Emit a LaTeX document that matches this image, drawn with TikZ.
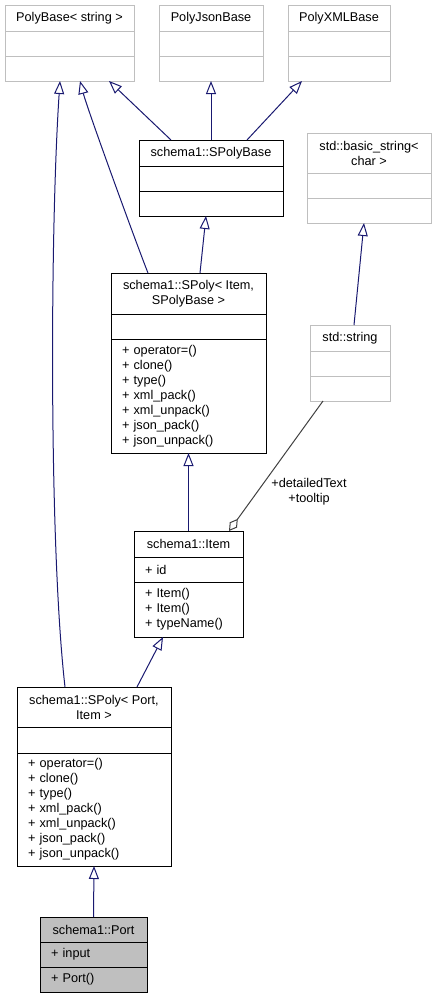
\documentclass[tikz,border=0pt]{standalone}
\usepackage{fontspec}
\setmainfont{Liberation Sans}
\usetikzlibrary{arrows.meta,positioning}
\definecolor{edgeblue}{HTML}{191970}
\definecolor{extgray}{HTML}{BFBFBF}
\definecolor{agggray}{HTML}{404040}

\begin{document}
\begin{tikzpicture}[x=1pt,y=-1pt,
    every node/.append style={font=\fontsize{12.7}{15}\selectfont,outer sep=0pt,inner ysep=0pt,line width=1pt},
    head/.style={draw=#1,anchor=north west,align=center,minimum height=26pt},
    head/.default=black,
    part/.style={draw=#1,minimum height=25pt,align=left,inner xsep=11pt},
    part/.default=black,
    inh/.style={edgeblue,line width=1pt,-{Triangle[open,length=13pt,width=10pt]}},
    agg/.style={agggray,line width=1pt,{Diamond[open,length=15pt,width=9pt]}-}
]
    \useasboundingbox (0,0) rectangle (437,999);

    % base classes
    \node[head=extgray,minimum width=129pt] (pb) at (5,5) {PolyBase< string >};
    \node[part=extgray,text width=107pt,below=0pt of pb] (pb1) {};
    \node[part=extgray,text width=107pt,below=0pt of pb1] (pb2) {};

    \node[head=extgray,minimum width=104pt] (pjb) at (159,5) {PolyJsonBase};
    \node[part=extgray,text width=82pt,below=0pt of pjb] (pjb1) {};
    \node[part=extgray,text width=82pt,below=0pt of pjb1] (pjb2) {};

    \node[head=extgray,minimum width=102pt] (pxb) at (288,5) {PolyXMLBase};
    \node[part=extgray,text width=80pt,below=0pt of pxb] (pxb1) {};
    \node[part=extgray,text width=80pt,below=0pt of pxb1] (pxb2) {};

    \node[head,minimum width=144pt] (spb) at (139,140) {schema1::SPolyBase};
    \node[part,text width=122pt,below=0pt of spb] (spb1) {};
    \node[part,text width=122pt,below=0pt of spb1] (spb2) {};

    \node[head=extgray,minimum width=124pt,minimum height=40pt] (bs) at (307,133) {std::basic\_string<\\char >};
    \node[part=extgray,text width=102pt,below=0pt of bs] (bs1) {};
    \node[part=extgray,text width=102pt,below=0pt of bs1] (bs2) {};

    % templates and members
    \node[head,minimum width=155pt,minimum height=41pt] (spi) at (111,273) {schema1::SPoly< Item,\\SPolyBase >};
    \node[part,text width=133pt,below=0pt of spi] (spi1) {};
    \node[part,text width=133pt,minimum height=114pt,below=0pt of spi1] (spi2) {+ operator=()\\+ clone()\\+ type()\\+ xml\_pack()\\+ xml\_unpack()\\+ json\_pack()\\+ json\_unpack()};

    \node[head=extgray,minimum width=80pt] (str) at (310,325) {std::string};
    \node[part=extgray,text width=58pt,below=0pt of str] (str1) {};
    \node[part=extgray,text width=58pt,below=0pt of str1] (str2) {};

    \node[head,minimum width=109pt] (item) at (134,531) {schema1::Item};
    \node[part,text width=87pt,below=0pt of item] (item1) {+ id};
    \node[part,text width=87pt,minimum height=55pt,below=0pt of item1] (item2) {+ Item()\\+ Item()\\+ typeName()};

    \node[head,minimum width=154pt,minimum height=40pt] (spp) at (17,687) {schema1::SPoly< Port,\\Item >};
    \node[part,text width=132pt,minimum height=26pt,below=0pt of spp] (spp1) {};
    \node[part,text width=132pt,minimum height=113pt,below=0pt of spp1] (spp2) {+ operator=()\\+ clone()\\+ type()\\+ xml\_pack()\\+ xml\_unpack()\\+ json\_pack()\\+ json\_unpack()};

    \node[head,fill=extgray,minimum width=107pt,minimum height=25pt] (port) at (40,917) {schema1::Port};
    \node[part,fill=extgray,text width=85pt,below=0pt of port] (port1) {+ input};
    \node[part,fill=extgray,text width=85pt,below=0pt of port1] (port2) {+ Port()};

    % inheritance
    \draw[inh] ([xshift=-40pt]spb.north) -- ([xshift=39.5pt]pb2.south);
    \draw[inh] (spb.north) -- (pjb2.south);
    \draw[inh] ([xshift=36pt]spb.north) -- ([xshift=-37pt]pxb2.south);
    \draw[inh] ([xshift=-40.5pt]spi.north) .. controls +(-10,-25) and +(8,30) .. ([xshift=10.5pt]pb2.south);
    \draw[inh] ([xshift=11.5pt]spi.north) -- ([xshift=-5pt]spb2.south);
    \draw[inh] ([xshift=4pt]str.north) -- ([xshift=-5pt]bs2.south);
    \draw[inh] (item.north) -- (spi2.south);
    \draw[inh] ([xshift=-29pt]spp.north) .. controls +(-16,-140) and +(-10,150) .. ([xshift=-9.5pt]pb2.south);
    \draw[inh] ([xshift=43pt]spp.north) -- ([xshift=-25.5pt]item2.south);
    \draw[inh] (port.north) -- (spp2.south);

    % members by value
    \draw[agg] ([xshift=40.5pt]item.north) -- ([xshift=-27pt]str2.south);
    \node[align=center] (lbl) at (309,492) {+detailedText\\+tooltip};
\end{tikzpicture}
\end{document}
